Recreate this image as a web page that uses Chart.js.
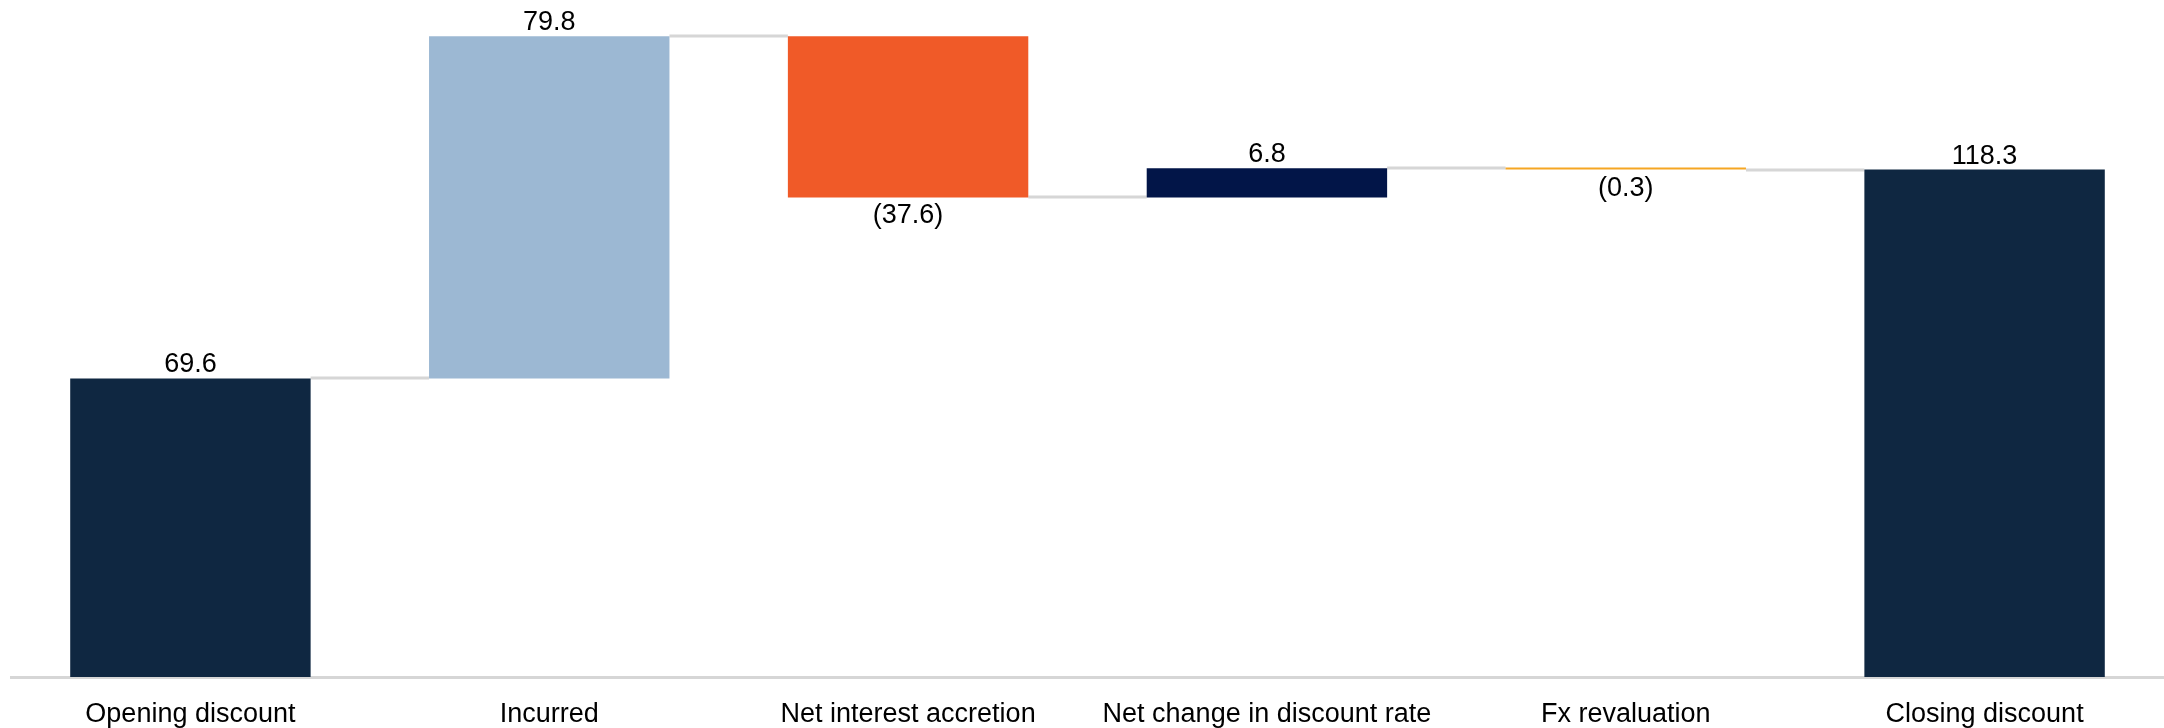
<!DOCTYPE html>
<html lang="en">
<head>
    <meta charset="UTF-8">
    <title>Discount movement</title>
    <script src="https://cdn.jsdelivr.net/npm/chart.js"></script>
    <style>
        html, body { margin: 0; padding: 0; background: #fff; }
        #wrap { width: 2164px; height: 728px; position: relative; }
    </style>
</head>
<body>
<div id="wrap"><canvas id="waterfall"></canvas></div>

<script>
const categories = ['Opening discount', 'Incurred', 'Net interest accretion', 'Net change in discount rate', 'Fx revaluation', 'Closing discount'];
const changes = [69.6, 79.8, -37.6, 6.8, -0.3, 118.3];
const isTotal = [true, false, false, false, false, true];
const barColors = ['#0F2741', '#9CB8D3', '#F05A28', '#021548', '#F5A623', '#0F2741'];

// floating bars: totals start from zero, movements start from the running total
const bars = [];
let running = 0;
changes.forEach((v, i) => {
    if (isTotal[i]) {
        bars.push([0, v]);
        running = v;
    } else {
        bars.push([running, running + v]);
        running += v;
    }
});

const fmt = v => v < 0 ? '(' + Math.abs(v).toFixed(1) + ')' : v.toFixed(1);
const FONT = '"Liberation Sans", Arial, sans-serif';

// grey step lines between neighbouring bars at the running level
const connectors = {
    id: 'connectors',
    beforeDatasetsDraw(chart) {
        const { ctx, scales: { y } } = chart;
        const meta = chart.getDatasetMeta(0);
        ctx.save();
        ctx.strokeStyle = '#D6D6D6';
        ctx.lineWidth = 3;
        for (let i = 0; i < meta.data.length - 1; i++) {
            const a = meta.data[i], b = meta.data[i + 1];
            const py = Math.round(y.getPixelForValue(bars[i][1]));
            ctx.beginPath();
            ctx.moveTo(a.x + a.width / 2, py);
            ctx.lineTo(b.x - b.width / 2, py);
            ctx.stroke();
        }
        ctx.restore();
    }
};

// value labels above rises, below falls
const valueLabels = {
    id: 'valueLabels',
    afterDatasetsDraw(chart) {
        const { ctx, scales: { y } } = chart;
        const meta = chart.getDatasetMeta(0);
        ctx.save();
        ctx.font = '27px ' + FONT;
        ctx.fillStyle = '#000';
        ctx.textAlign = 'center';
        meta.data.forEach((el, i) => {
            const v = changes[i];
            const [s, e] = bars[i];
            if (v >= 0) {
                ctx.textBaseline = 'alphabetic';
                ctx.fillText(fmt(v), el.x, y.getPixelForValue(Math.max(s, e)) - 6);
            } else {
                ctx.textBaseline = 'top';
                ctx.fillText(fmt(v), el.x, y.getPixelForValue(Math.min(s, e)) + 5);
            }
        });
        ctx.restore();
    }
};

new Chart(document.getElementById('waterfall'), {
    type: 'bar',
    data: {
        labels: categories,
        datasets: [{
            data: bars,
            backgroundColor: barColors,
            borderWidth: 0,
            borderSkipped: false,
            minBarLength: 2,
            categoryPercentage: 1,
            barPercentage: 0.67
        }]
    },
    options: {
        responsive: true,
        maintainAspectRatio: false,
        animation: false,
        layout: { padding: { left: 11, right: 0, top: 10, bottom: 0 } },
        plugins: { legend: { display: false }, tooltip: { enabled: false } },
        scales: {
            x: {
                grid: { display: false },
                border: { display: true, color: '#D6D6D6', width: 3 },
                ticks: { color: '#000', font: { family: FONT, size: 27 }, padding: 13, maxRotation: 0 },
                afterFit(scale) { scale.height = 51; }
            },
            y: { display: false, min: 0, max: 155.5 }
        }
    },
    plugins: [connectors, valueLabels]
});
</script>
</body>
</html>
